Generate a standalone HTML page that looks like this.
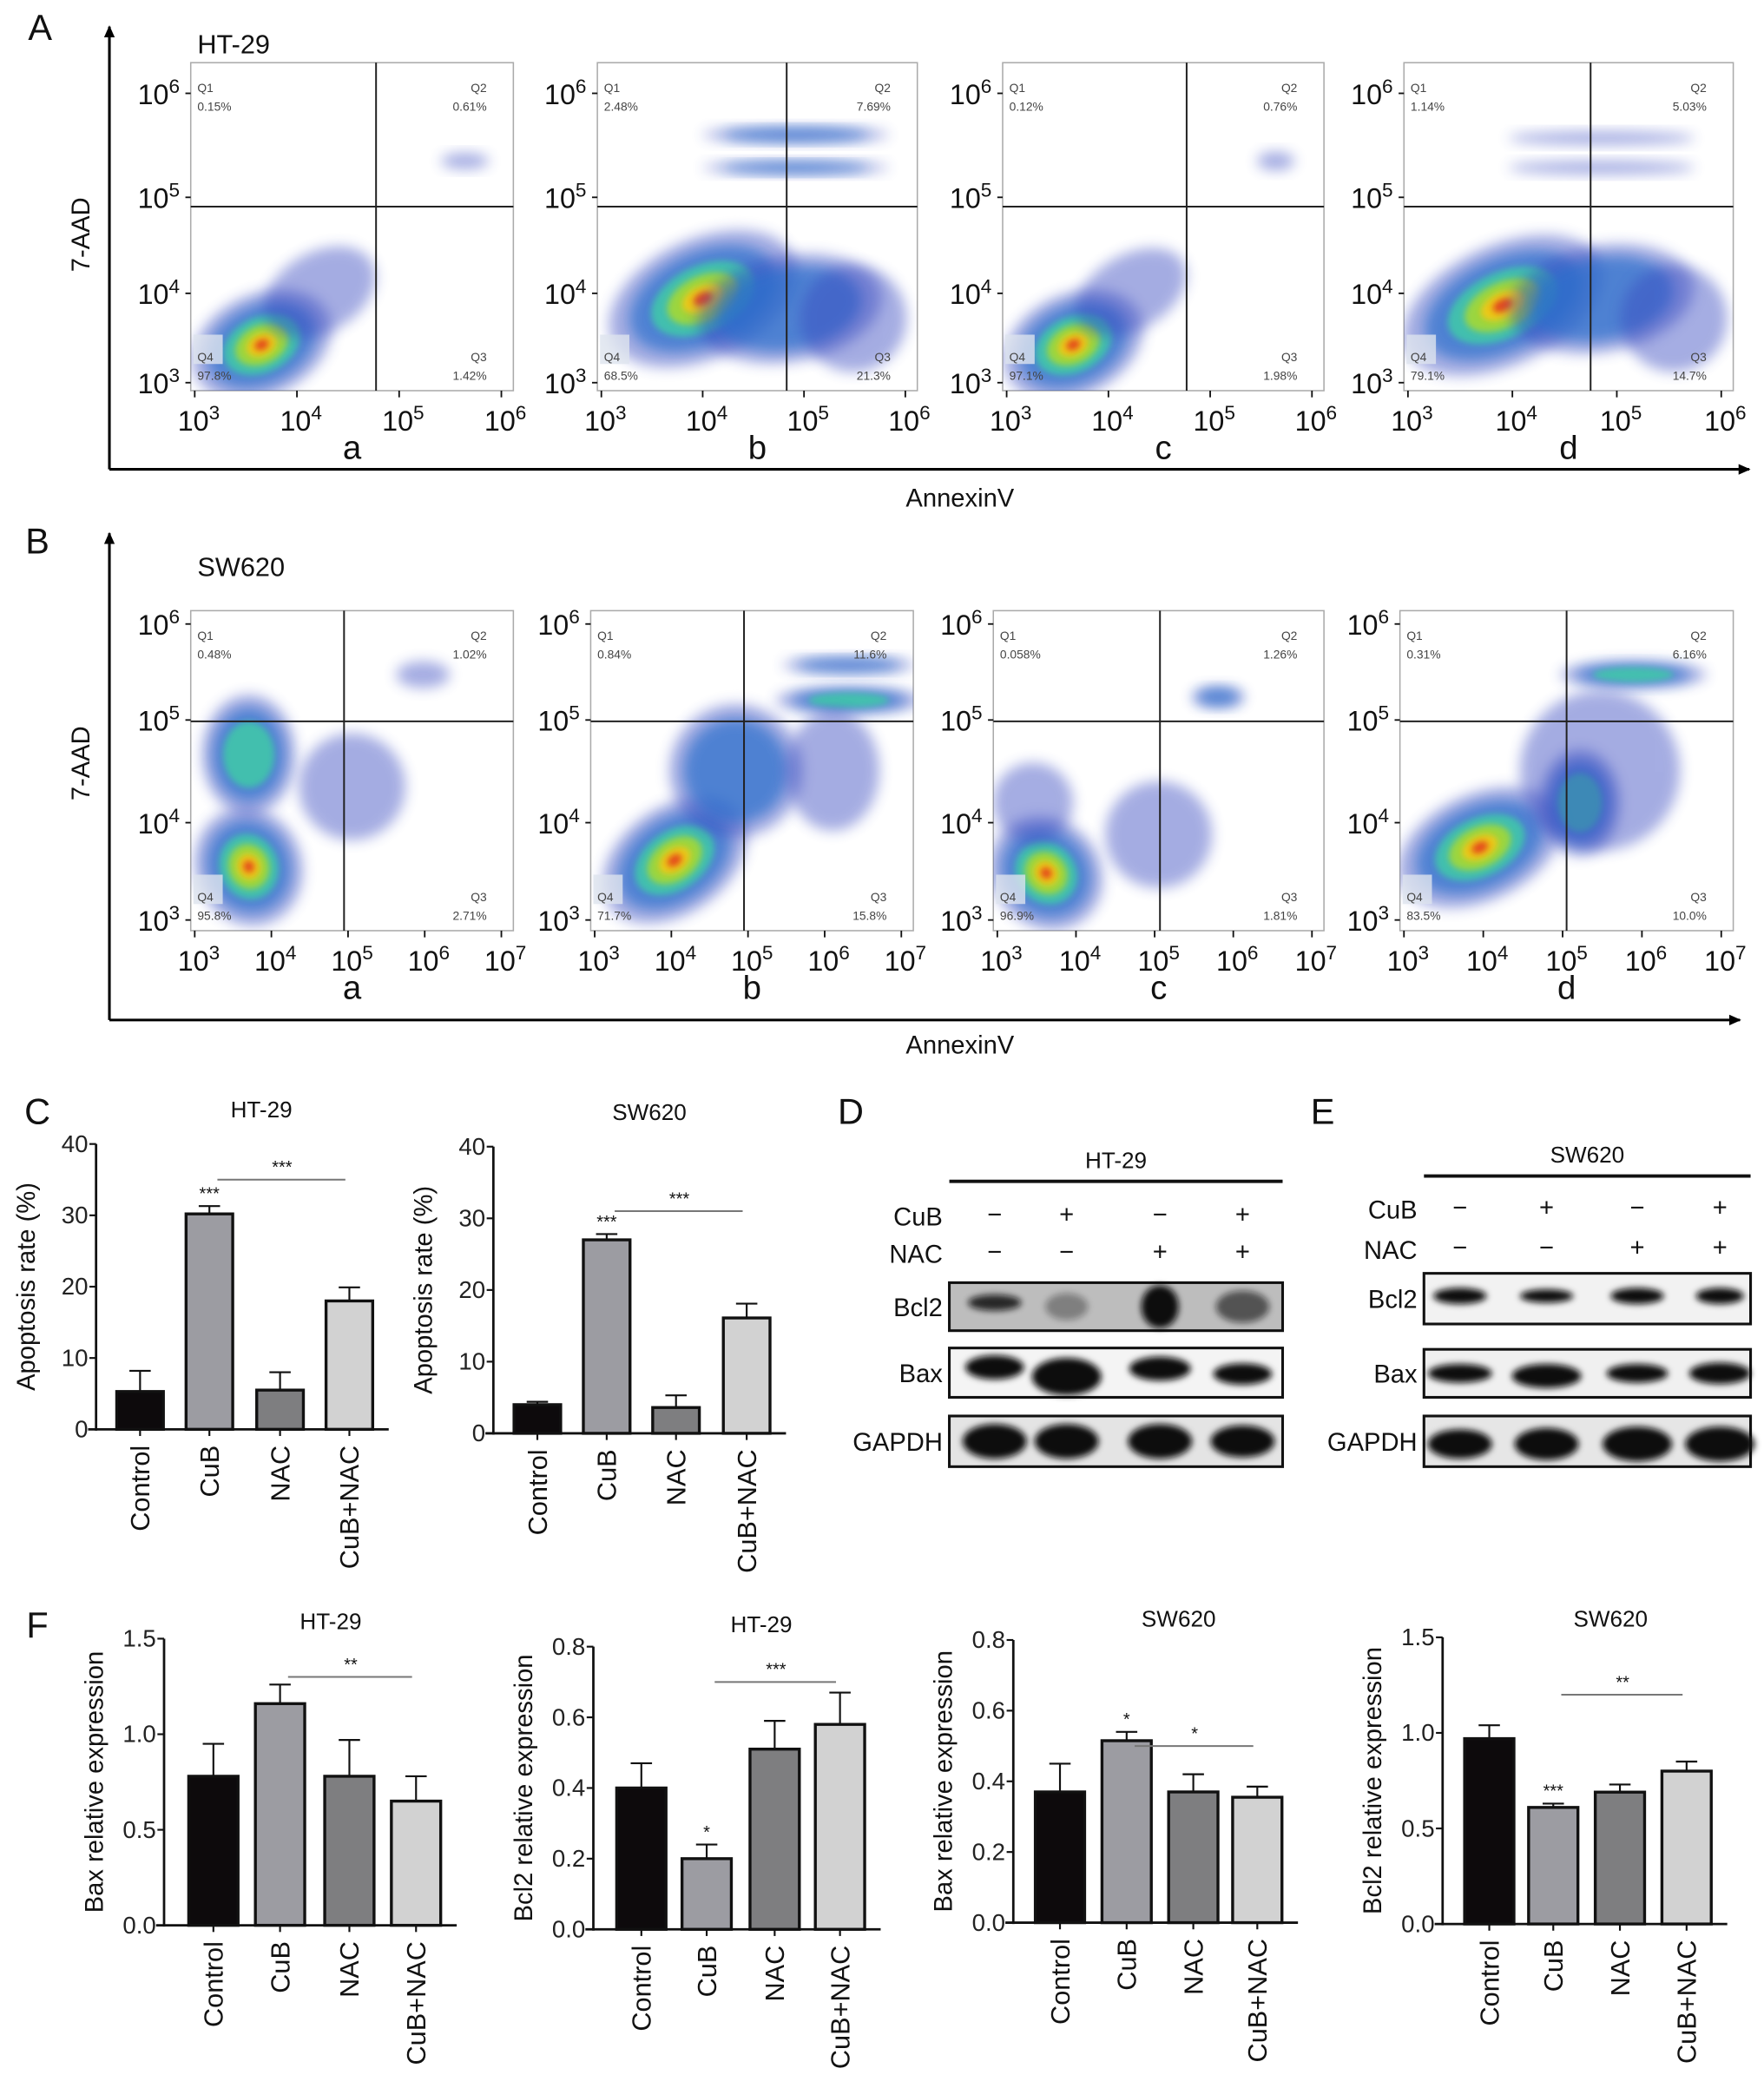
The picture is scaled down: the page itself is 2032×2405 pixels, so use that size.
<!DOCTYPE html>
<html><head><meta charset="utf-8">
<style>
html,body{margin:0;padding:0;background:#fff;}
svg{display:block;font-family:"Liberation Sans",sans-serif;}
</style></head>
<body>
<svg id="fig" width="2032" height="2405" viewBox="0 0 1323 1566" xmlns="http://www.w3.org/2000/svg">
<defs>
<filter id="blur2" x="-50%" y="-50%" width="200%" height="200%"><feGaussianBlur stdDeviation="5"/></filter>
<filter id="blur1" x="-50%" y="-50%" width="200%" height="200%"><feGaussianBlur stdDeviation="2.5"/></filter>
<filter id="bandblur" x="-20%" y="-50%" width="140%" height="200%"><feGaussianBlur stdDeviation="2.5"/></filter>
<marker id="arr" markerWidth="10" markerHeight="10" refX="8" refY="5" orient="auto" markerUnits="userSpaceOnUse"><path d="M0,1 L9,5 L0,9 z" fill="#000"/></marker>
</defs>
<g id="root"></g>
</svg>
<script>
// ---------- Data ----------
const groups = ["Control","CuB","NAC","CuB+NAC"];
const barColors = ["#0d0a0c","#9c9ca2","#7e7e80","#d2d2d2"];

const apopHT29 = [5.3, 30.2, 5.5, 18.0];
const apopHT29Err = [2.9, 1.1, 2.5, 1.9];
const apopSW620 = [4.0, 27.0, 3.6, 16.1];
const apopSW620Err = [0.4, 0.8, 1.7, 2.0];
const apopTicks = [0,10,20,30,40];

const baxHT29 = [0.78, 1.16, 0.78, 0.65];
const baxHT29Err = [0.17, 0.10, 0.19, 0.13];
const bcl2HT29 = [0.40, 0.20, 0.51, 0.58];
const bcl2HT29Err = [0.07, 0.04, 0.08, 0.09];
const baxSW620 = [0.37, 0.515, 0.37, 0.355];
const baxSW620Err = [0.08, 0.025, 0.05, 0.03];
const bcl2SW620 = [0.97, 0.61, 0.69, 0.80];
const bcl2SW620Err = [0.07, 0.02, 0.04, 0.05];
const ticks15 = ["0.0","0.5","1.0","1.5"];
const ticks08 = ["0.0","0.2","0.4","0.6","0.8"];

const quadHT29 = [["0.15%","0.61%","1.42%","97.8%"],["2.48%","7.69%","21.3%","68.5%"],["0.12%","0.76%","1.98%","97.1%"],["1.14%","5.03%","14.7%","79.1%"]];
const quadSW620 = [["0.48%","1.02%","2.71%","95.8%"],["0.84%","11.6%","15.8%","71.7%"],["0.058%","1.26%","1.81%","96.9%"],["0.31%","6.16%","10.0%","83.5%"]];

// ---------- helpers ----------
const NS="http://www.w3.org/2000/svg";
const root=document.getElementById('root');
function el(tag,attrs,parent,text){const e=document.createElementNS(NS,tag);for(const k in attrs)e.setAttribute(k,attrs[k]);if(text!==undefined)e.textContent=text;(parent||root).appendChild(e);return e;}
function txt(x,y,s,size,parent,anchor,extra){const t=el('text',Object.assign({x:x,y:y,'font-size':size,'text-anchor':anchor||'middle',fill:'#111'},extra||{}),parent,s);return t;}
function sup(x,y,base,exp,size,parent){const t=el('text',{x:x,y:y,'font-size':size,'text-anchor':'middle',fill:'#111'},parent);t.appendChild(document.createTextNode(base));const ts=document.createElementNS(NS,'tspan');ts.setAttribute('dy',-size*0.4);ts.setAttribute('font-size',size*0.7);ts.textContent=exp;t.appendChild(ts);return t;}

// ---------- Panel letters ----------
[["A",30,30],["B",28,415],["C",28,843],["D",638,843],["E",992,843],["F",28,1228]].forEach(p=>{
  const t=txt(p[1],p[2],p[0],27,root,'middle');
  
  
});

// ---------- Flow cytometry ----------
function blob(g,cx,cy,rx,ry,rot,level){
  const cols=[["#3848c0",1,0.45],["#2b6fcc",0.78,0.7],["#3fcaa8",0.55,0.85],["#a4d836",0.38,0.9],["#f0c818",0.22,0.95],["#e4401a",0.1,0.95]];
  for(let i=0;i<=level;i++){
    const c=cols[i];
    el('ellipse',{cx:cx,cy:cy,rx:rx*c[1],ry:ry*c[1],fill:c[0],opacity:c[2],filter:i<2?'url(#blur2)':'url(#blur1)',transform:`rotate(${rot} ${cx} ${cy})`},g);
  }
}
function flowPanel(prefix,box,qx,qy,quads,letter,nDecX,blobs,yTickY){
  const g=el('g',{});
  
  
  const [x0,y0,x1,y1]=box;
  const clip=el('clipPath',{id:'c'+prefix+letter},g);
  el('rect',{x:x0,y:y0,width:x1-x0,height:y1-y0},clip);
  el('rect',{x:x0,y:y0,width:x1-x0,height:y1-y0,fill:'#fff',stroke:'#aaa','stroke-width':1},g);
  const bg=el('g',{'clip-path':`url(#c${prefix}${letter})`},g);
  blobs.forEach(b=>blob(bg,x0+b[0]*(x1-x0),y0+b[1]*(y1-y0),b[2],b[3],b[4],b[5]));
  el('rect',{x:x0+2,y:y1-42,width:22,height:22,fill:'#dde4ee',opacity:0.8},bg);
  el('line',{x1:qx,y1:y0,x2:qx,y2:y1,stroke:'#222','stroke-width':1.3},g);
  el('line',{x1:x0,y1:qy,x2:x1,y2:qy,stroke:'#222','stroke-width':1.3},g);
  const fs=9;
  txt(x0+5,y0+22,'Q1',fs,g,'start',{fill:'#444'});txt(x0+5,y0+36,quads[0],fs,g,'start',{fill:'#444'});
  txt(x1-20,y0+22,'Q2',fs,g,'end',{fill:'#444'});txt(x1-20,y0+36,quads[1],fs,g,'end',{fill:'#444'});
  txt(x1-20,y1-22,'Q3',fs,g,'end',{fill:'#444'});txt(x1-20,y1-8,quads[2],fs,g,'end',{fill:'#444'});
  txt(x0+5,y1-22,'Q4',fs,g,'start',{fill:'#444'});txt(x0+5,y1-8,quads[3],fs,g,'start',{fill:'#444'});
  ["6","5","4","3"].forEach((e,i)=>{
    const yy=yTickY[i];
    el('line',{x1:x0-4,y1:yy,x2:x0,y2:yy,stroke:'#111','stroke-width':1.2},g);
    sup(x0-24,yy+8,'10',e,21,g);
  });
  const step=(x1-x0-12)/nDecX;
  for(let i=0;i<=nDecX;i++){
    const xx=x0+3+i*step;
    el('line',{x1:xx,y1:y1,x2:xx,y2:y1+5,stroke:'#111','stroke-width':1.2},g);
    sup(xx+3,y1+30,'10',String(3+i),21,g);
  }
  txt((x0+x1)/2,y1+51,letter,25,g);
}
function bigAxes(yTop,yBot,xEnd,labelY,cell,cellY,name){
  const g=el('g',{});
  el('line',{x1:82,y1:yBot,x2:82,y2:yTop,stroke:'#000','stroke-width':2,'marker-end':'url(#arr)'},g);
  el('line',{x1:82,y1:yBot,x2:xEnd,y2:yBot,stroke:'#000','stroke-width':2,'marker-end':'url(#arr)'},g);
  txt(720,labelY,'AnnexinV',19,g);
  txt(0,0,'7-AAD',19,g,'middle',{transform:`translate(67 ${(yTop+yBot)/2-10}) rotate(-90)`});
  txt(148,cellY,cell,20,g,'start');
}
bigAxes(20,352,1312,380,'HT-29',40,'panel-a-axes');
bigAxes(400,765,1305,790,'SW620',432,'panel-b-axes');

const boxesA=[[143,47,385,293,282],[448,47,688,293,590],[752,47,993,293,890],[1053,47,1300,293,1193]];
const blobsA=[
 [[0.22,0.86,55,38,-25,5],[0.4,0.7,45,30,-30,0],[0.85,0.3,18,6,0,0]],
 [[0.33,0.72,75,45,-25,5],[0.6,0.75,70,40,-10,1],[0.62,0.22,70,6,0,1],[0.62,0.32,70,5,0,1],[0.8,0.78,40,40,0,0]],
 [[0.22,0.86,55,38,-25,5],[0.4,0.7,45,28,-30,0],[0.85,0.3,14,7,0,0]],
 [[0.3,0.74,80,45,-25,5],[0.6,0.72,70,40,-10,1],[0.6,0.23,70,5,0,0],[0.6,0.32,70,5,0,0],[0.82,0.78,40,40,0,0]]
];
["a","b","c","d"].forEach((l,i)=>{const b=boxesA[i];flowPanel('flow-ht29',[b[0],b[1],b[2],b[3]],b[4],155,quadHT29[i],l,3,blobsA[i],[70,148,220,287]);});

const boxesB=[[143,458,385,698,258],[443,458,685,698,558],[745,458,993,698,870],[1050,458,1300,698,1175]];
const blobsB=[
 [[0.18,0.8,40,45,-20,5],[0.18,0.45,35,45,0,2],[0.72,0.2,20,10,0,0],[0.5,0.55,40,40,0,0]],
 [[0.26,0.78,60,40,-35,5],[0.45,0.5,50,50,-40,1],[0.8,0.28,55,10,0,2],[0.8,0.17,50,6,0,1],[0.75,0.5,35,45,0,0]],
 [[0.16,0.82,40,45,-45,5],[0.12,0.6,30,30,0,0],[0.68,0.27,20,8,0,1],[0.5,0.7,40,40,0,0]],
 [[0.24,0.74,65,40,-25,5],[0.54,0.6,30,40,0,2],[0.7,0.2,55,10,0,2],[0.6,0.5,60,60,0,0]]
];
["a","b","c","d"].forEach((l,i)=>{const b=boxesB[i];flowPanel('flow-sw620',[b[0],b[1],b[2],b[3]],b[4],541,quadSW620[i],l,4,blobsB[i],[468,540,617,690]);});

// ---------- Bar charts ----------
function barChart(name,opt){
  const g=el('g',{});
  const {ax,y0,yTop,vmax,ticks,vals,errs,centers,bw,title,titleX,titleY,ylab,sig,stars}=opt;
  const yS=v=>y0-(v/vmax)*(y0-yTop);
  el('line',{x1:ax,y1:y0+1,x2:ax,y2:yTop,stroke:'#111','stroke-width':1.8},g);
  el('line',{x1:ax-6,y1:y0,x2:centers[3]+bw/2+12,y2:y0,stroke:'#111','stroke-width':1.8},g);
  ticks.forEach((t,i)=>{
    const v=parseFloat(t);const yy=yS(v);
    el('line',{x1:ax-5,y1:yy,x2:ax,y2:yy,stroke:'#111','stroke-width':1.4},g);
    const tl=txt(ax-6,yy+6,t,18,g,'end',{fill:'#222'});
    
    
  });
  txt(titleX,titleY,title,17,g);
  const yl=txt(0,0,ylab,19,g,'middle',{transform:`translate(${ax-46} ${(y0+yTop)/2}) rotate(-90)`});
  
  
  vals.forEach((v,i)=>{
    const cx=centers[i];
    const top=yS(v+errs[i]);
    el('line',{x1:cx,y1:yS(v),x2:cx,y2:top,stroke:'#111','stroke-width':1.4},g);
    el('line',{x1:cx-8,y1:top,x2:cx+8,y2:top,stroke:'#111','stroke-width':1.4},g);
    const r=el('rect',{x:cx-bw/2,y:yS(v),width:bw,height:y0-yS(v),fill:barColors[i],stroke:'#111','stroke-width':2.2},g);
    
    
    el('line',{x1:cx,y1:y0,x2:cx,y2:y0+5,stroke:'#111','stroke-width':1.4},g);
    const xl=txt(0,0,groups[i],20,g,'end',{transform:`translate(${cx+7} ${y0+12}) rotate(-90)`});
    
    
    if(stars[i]) txt(cx,top-5,stars[i],13,g);
  });
  const sy=yS(sig.v);
  el('line',{x1:centers[1]+6,y1:sy,x2:centers[3]-3,y2:sy,stroke:'#777','stroke-width':1.3},g);
  txt((centers[1]+centers[3])/2+2,sy-5,sig.s,13,g);
}
barChart('apoptosis-chart-ht29',{ax:72,y0:1072,yTop:858,vmax:40,ticks:apopTicks.map(String),vals:apopHT29,errs:apopHT29Err,centers:[105,157,210,262],bw:35,title:'HT-29',titleX:196,titleY:838,ylab:'Apoptosis rate (%)',sig:{v:35,s:'***'},stars:['','***','','']});
barChart('apoptosis-chart-sw620',{ax:370,y0:1075,yTop:860,vmax:40,ticks:apopTicks.map(String),vals:apopSW620,errs:apopSW620Err,centers:[403,455,507,560],bw:35,title:'SW620',titleX:487,titleY:840,ylab:'Apoptosis rate (%)',sig:{v:31,s:'***'},stars:['','***','','']});
barChart('bax-chart-ht29',{ax:123,y0:1444,yTop:1229,vmax:1.5,ticks:ticks15,vals:baxHT29,errs:baxHT29Err,centers:[160,210,262,312],bw:37,title:'HT-29',titleX:248,titleY:1222,ylab:'Bax relative expression',sig:{v:1.3,s:'**'},stars:['','','','']});
barChart('bcl2-chart-ht29',{ax:445,y0:1447,yTop:1235,vmax:0.8,ticks:ticks08,vals:bcl2HT29,errs:bcl2HT29Err,centers:[481,530,581,630],bw:37,title:'HT-29',titleX:571,titleY:1224,ylab:'Bcl2 relative expression',sig:{v:0.7,s:'***'},stars:['','*','','']});
barChart('bax-chart-sw620',{ax:760,y0:1442,yTop:1230,vmax:0.8,ticks:ticks08,vals:baxSW620,errs:baxSW620Err,centers:[795,845,895,943],bw:37,title:'SW620',titleX:884,titleY:1220,ylab:'Bax relative expression',sig:{v:0.5,s:'*'},stars:['','*','','']});
barChart('bcl2-chart-sw620',{ax:1082,y0:1443,yTop:1228,vmax:1.5,ticks:ticks15,vals:bcl2SW620,errs:bcl2SW620Err,centers:[1117,1165,1215,1265],bw:37,title:'SW620',titleX:1208,titleY:1220,ylab:'Bcl2 relative expression',sig:{v:1.2,s:'**'},stars:['','***','','']});

// ---------- Western blots ----------
const cubSigns=["−","+","−","+"];
const nacSigns=["−","−","+","+"];
function blot(name,opt){
  const g=el('g',{});
  const {x0,x1,lineY,title,titleY,lanes,cubY,nacY,rows,labX}=opt;
  el('line',{x1:x0,y1:lineY,x2:x1,y2:lineY,stroke:'#111','stroke-width':2.5},g);
  txt((x0+x1)/2,titleY,title,17,g);
  txt(labX,cubY+7,'CuB',19,g,'end');txt(labX,nacY+7,'NAC',19,g,'end');
  lanes.forEach((lx,i)=>{txt(lx,cubY+5,cubSigns[i],19,g);txt(lx,nacY+5,nacSigns[i],19,g);});
  rows.forEach(r=>{
    el('rect',{x:x0,y:r.y,width:x1-x0,height:r.h,fill:r.bg,stroke:'#111','stroke-width':2},g);
    txt(labX,r.y+r.h/2+7,r.label,19,g,'end');
    lanes.forEach((lx,i)=>{
      const b=r.bands[i];
      el('ellipse',{cx:lx+(b[3]||0),cy:r.y+r.h/2+(b[2]||0),rx:b[0],ry:b[1],fill:'#0a0a0a',opacity:b[4]||1,filter:'url(#bandblur)'},g);
    });
  });
}
blot('western-blot-ht29',{x0:712,x1:962,lineY:886,title:'HT-29',titleY:876,lanes:[746,800,870,932],cubY:912,nacY:940,labX:707,
 rows:[{label:'Bcl2',y:962,h:36,bg:'#bdbdbd',bands:[[20,6,-3,0,0.85],[16,10,0,0,0.35],[14,16,0,0,1],[20,12,0,0,0.6]]},
       {label:'Bax',y:1011,h:37,bg:'#f4f4f4',bands:[[22,9,-4],[26,14,3],[23,9,-3],[22,8,1]]},
       {label:'GAPDH',y:1062,h:38,bg:'#e4e4e4',bands:[[24,13],[24,13],[24,13],[24,12]]}]});
blot('western-blot-sw620',{x0:1068,x1:1313,lineY:882,title:'SW620',titleY:872,lanes:[1095,1160,1228,1290],cubY:907,nacY:937,labX:1063,
 rows:[{label:'Bcl2',y:955,h:38,bg:'#f2f2f2',bands:[[20,6,-2],[20,5,-2],[20,6,-2],[18,6,-2]]},
       {label:'Bax',y:1012,h:36,bg:'#f0f0f0',bands:[[24,7],[26,9,2],[23,7],[23,8]]},
       {label:'GAPDH',y:1062,h:38,bg:'#e6e6e6',bands:[[24,11,2],[24,12,2],[26,13,2],[26,13,2]]}]});
</script>
</body></html>
